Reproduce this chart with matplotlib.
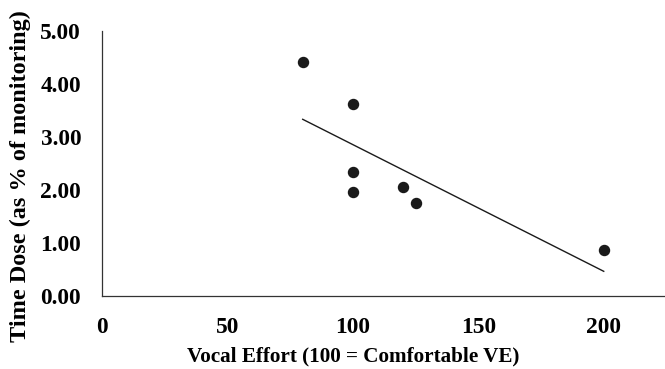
import numpy as np
import matplotlib as mpl
import matplotlib.pyplot as plt

# data
vocal_effort = [80, 100, 100, 100, 120, 125, 200]
time_dose = [4.41, 3.62, 2.33, 1.96, 2.05, 1.76, 0.87]
xticks = [0, 50, 100, 150, 200]
yticks = [0, 1, 2, 3, 4, 5]

mpl.rcParams['font.family'] = ['Liberation Serif', 'DejaVu Serif']
mpl.rcParams['font.weight'] = 'bold'

fig = plt.figure(figsize=(6.65, 3.69), dpi=100)
ax = fig.add_axes([0.1534, 0.198, 0.845, 0.718])

ax.scatter(vocal_effort, time_dose, s=52, color='#1a1a1a', zorder=3)

# linear trendline
slope, icpt = np.polyfit(vocal_effort, time_dose, 1)
xs = np.array([min(vocal_effort), max(vocal_effort)])
ax.plot(xs, slope * xs + icpt, color='#1a1a1a', lw=1.0)

ax.set_xlim(0, 224)
ax.set_ylim(0, 5)
ax.set_xticks(xticks)
ax.set_yticks(yticks)
ax.set_yticklabels(['%.2f' % v for v in yticks])
ax.tick_params(length=0, labelsize=16.8)
ax.tick_params(axis='y', pad=15)
ax.tick_params(axis='x', pad=15)
for lab in ax.get_xticklabels() + ax.get_yticklabels():
    lab.set_fontweight('bold')

ax.spines['top'].set_visible(False)
ax.spines['right'].set_visible(False)
ax.spines['left'].set_color('#333333')
ax.spines['bottom'].set_color('#333333')
ax.spines['left'].set_linewidth(0.9)
ax.spines['bottom'].set_linewidth(0.9)

ax.set_xlabel('Vocal Effort (100 = Comfortable VE)', fontsize=15.2, fontweight='bold', va='center')
ax.set_ylabel('Time Dose (as % of monitoring)', fontsize=17.5, fontweight='bold', va='center')
ax.xaxis.set_label_coords(0.447, -0.23)
ax.yaxis.set_label_coords(-0.146, 0.451)

fig.savefig('out.png', dpi=100)
